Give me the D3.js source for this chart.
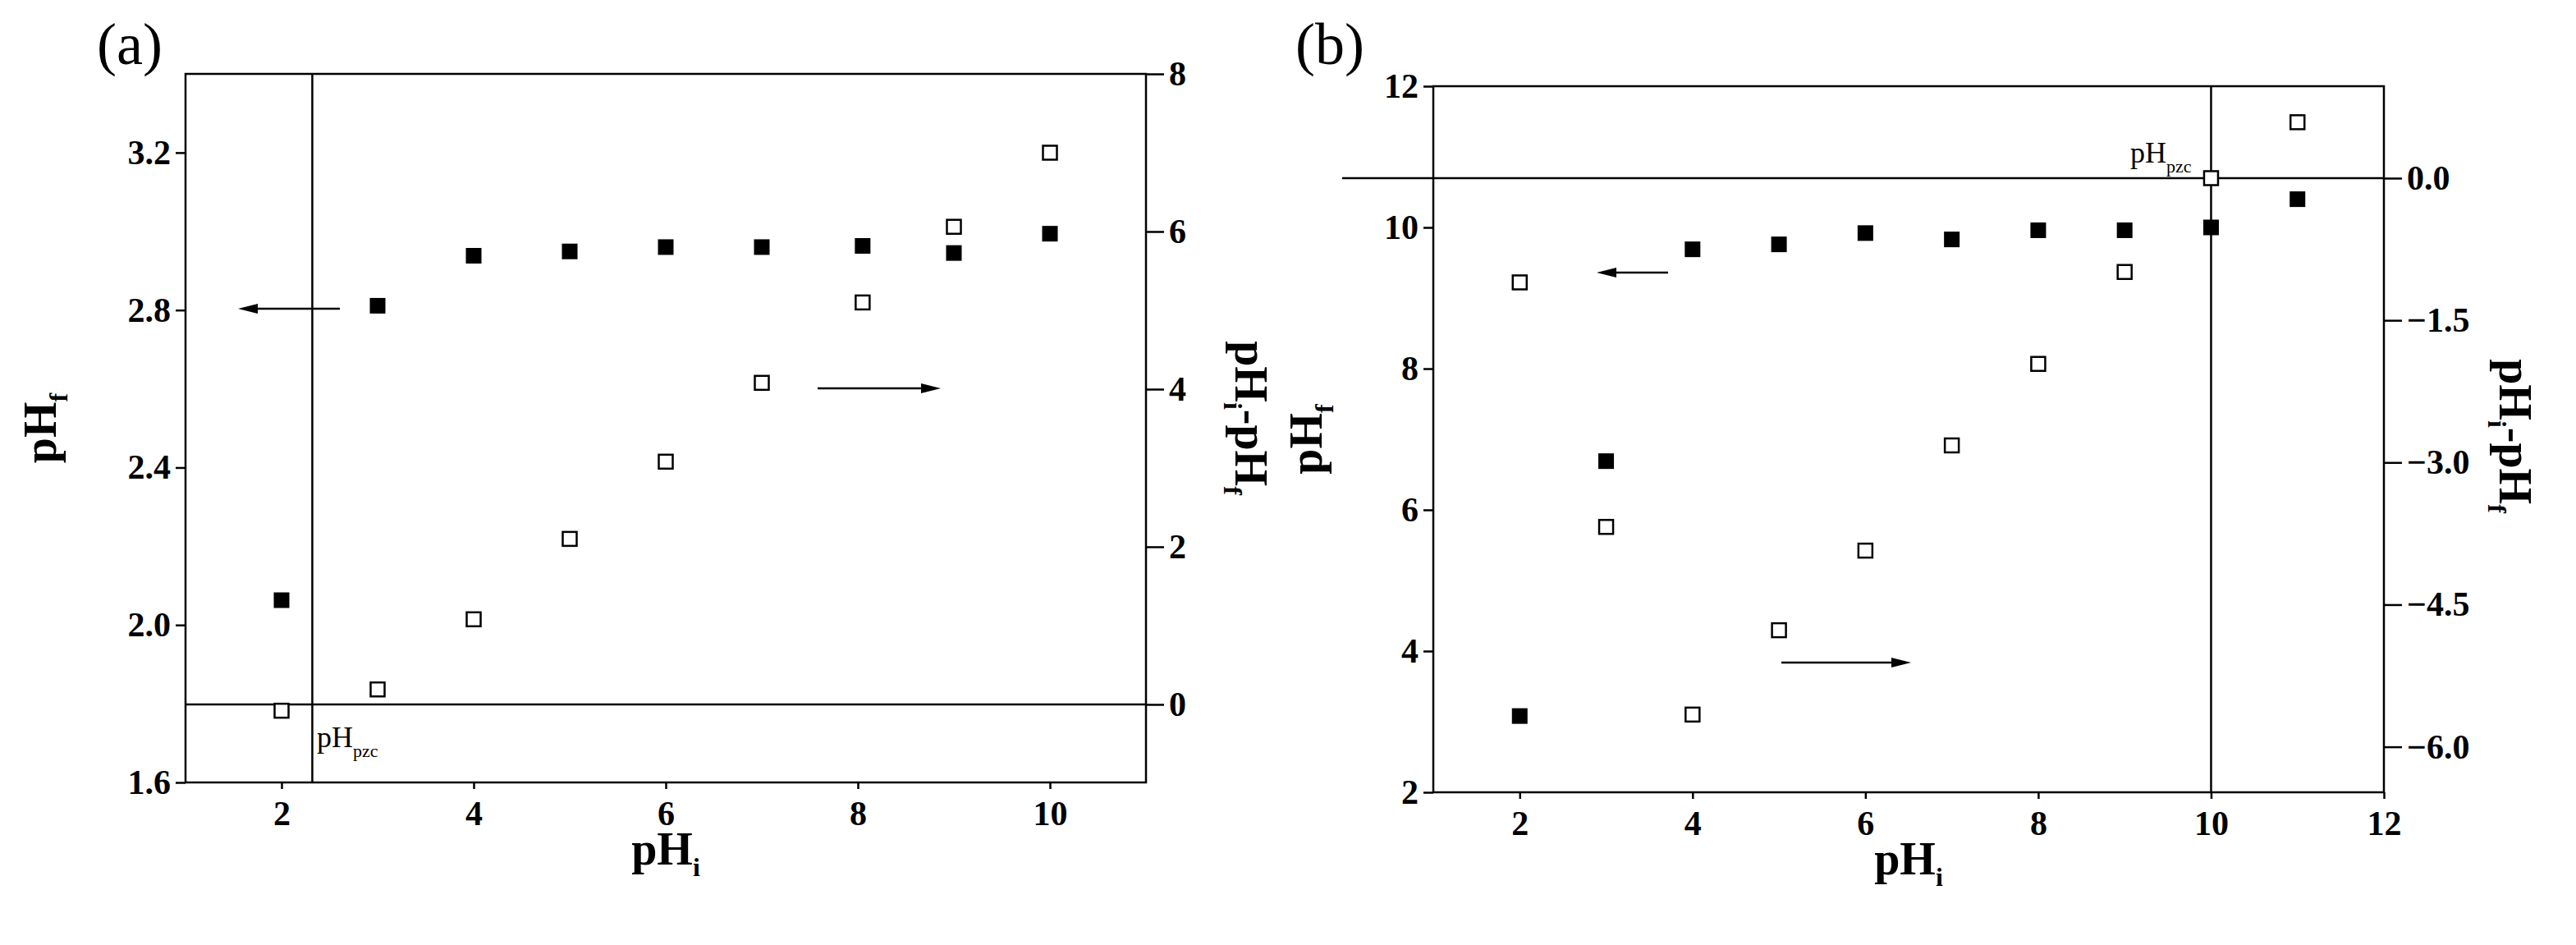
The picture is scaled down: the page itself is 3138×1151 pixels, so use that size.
<!DOCTYPE html><html><head><meta charset="utf-8">
<script src="https://cdn.jsdelivr.net/npm/d3@7"></script>
<style>body{margin:0;background:#fff}text{font-family:"Liberation Serif",serif}</style></head><body>
<svg id="c" width="3138" height="1151"></svg>
<script>
const xA_fill=[2,3,4,5,6,7,8.05,9,10];
const filledA=[2.063,2.811,2.938,2.949,2.96,2.96,2.963,2.945,2.994];
const xA_open=[2,3,4,5,6,7,8.05,9,10];
const openA=[-0.08,0.19,1.08,2.1,3.08,4.08,5.1,6.06,7.0];
const xB=[2,3,4,5,6,7,8,9,10,11];
const filledB=[3.08,6.69,9.69,9.76,9.92,9.83,9.96,9.96,10.0,10.4];
const openB=[-1.10,-3.68,-5.66,-4.77,-3.93,-2.82,-1.96,-0.99,0.0,0.59];
const ticksAx=[2,4,6,8,10], ticksAl=[1.6,2.0,2.4,2.8,3.2], ticksAr=[0,2,4,6,8];
const ticksBx=[2,4,6,8,10,12], ticksBl=[2,4,6,8,10,12], ticksBr=[0,-1.5,-3,-4.5,-6];
const svg=d3.select("#c");
function panel(o){
  const g=svg.append("g");
  const x=d3.scaleLinear().domain(o.xd).range([o.L,o.R]);
  const yl=d3.scaleLinear().domain(o.yld).range([o.B,o.T]);
  const yr=d3.scaleLinear().domain(o.yrd).range([o.B,o.T]);
  g.append("rect").attr("x",o.L).attr("y",o.T).attr("width",o.R-o.L).attr("height",o.B-o.T).attr("fill","none").attr("stroke","#000").attr("stroke-width",2.5);
  const st=s=>{s.select(".domain").remove();s.selectAll("line").attr("stroke-width",2.5);s.selectAll("text").attr("font-size",42).attr("font-weight","bold").attr("font-family","Liberation Serif")};
  g.append("g").attr("transform",`translate(0,${o.B})`).call(d3.axisBottom(x).tickValues(o.tx).tickSize(8).tickPadding(14)).call(st);
  g.append("g").attr("transform",`translate(${o.L},0)`).call(d3.axisLeft(yl).tickValues(o.tl).tickFormat(o.fl).tickSize(12).tickPadding(6)).call(st);
  g.append("g").attr("transform",`translate(${o.R},0)`).call(d3.axisRight(yr).tickValues(o.tr).tickFormat(o.fr).tickSize(22).tickPadding(6)).call(st);
  g.append("line").attr("x1",o.hx0).attr("x2",o.R).attr("y1",yr(0)).attr("y2",yr(0)).attr("stroke","#000").attr("stroke-width",2.5);
  g.append("line").attr("x1",x(o.vx)).attr("x2",x(o.vx)).attr("y1",o.T).attr("y2",o.B).attr("stroke","#000").attr("stroke-width",2.5);
  const s=19;
  g.selectAll(".f").data(o.fx).join("rect").attr("x",(d,i)=>x(d)-s/2).attr("y",(d,i)=>yl(o.fy[i])-s/2).attr("width",s).attr("height",s).attr("fill","#000");
  g.selectAll(".o").data(o.ox).join("rect").attr("x",(d,i)=>x(d)-s/2+1).attr("y",(d,i)=>yr(o.oy[i])-s/2+1).attr("width",s-2).attr("height",s-2).attr("fill","#fff").attr("stroke","#000").attr("stroke-width",2.5);
  const arr=(x1,x2,y)=>{g.append("line").attr("x1",x1).attr("x2",x2+(x2>x1?-14:14)).attr("y1",y).attr("y2",y).attr("stroke","#000").attr("stroke-width",2.5);
    const d=x2>x1?-1:1;g.append("path").attr("d",`M${x2},${y}L${x2+d*24},${y-6}L${x2+d*24},${y+6}Z`).attr("fill","#000");};
  arr(...o.a1);arr(...o.a2);
  const t=g.append("text").attr("x",o.pz[0]).attr("y",o.pz[1]).attr("font-family","Liberation Sans").attr("font-size",36);
  t.append("tspan").text("pH");t.append("tspan").attr("font-size",22).attr("dy",12).text("pzc");
  const xl=g.append("text").attr("x",(o.L+o.R)/2).attr("y",o.B+100).attr("text-anchor","middle").attr("font-size",56).attr("font-weight","bold");
  xl.append("tspan").text("pH");xl.append("tspan").attr("font-size",32).attr("dy",14).text("i");
  const yt=g.append("text").attr("transform",`translate(${o.ylx},${(o.T+o.B)/2}) rotate(-90)`).attr("text-anchor","middle").attr("font-size",56).attr("font-weight","bold");
  yt.append("tspan").text("pH");yt.append("tspan").attr("font-size",32).attr("dy",14).text("f");
  const rt=g.append("text").attr("transform",`translate(${o.yrx},${o.yry}) rotate(90)`).attr("text-anchor","middle").attr("font-size",56).attr("font-weight","bold");
  rt.append("tspan").text("pH");rt.append("tspan").attr("font-size",32).attr("dy",14).text("i");rt.append("tspan").attr("dy",-14).text("-pH");rt.append("tspan").attr("font-size",32).attr("dy",14).text("f");
  svg.append("text").attr("x",o.lab[0]).attr("y",o.lab[1]).attr("font-size",72).text(o.lab[2]);
}
panel({L:226,R:1396,T:90,B:953,xd:[1,11],yld:[1.6,3.4],yrd:[-0.99,8],tx:ticksAx,tl:ticksAl,tr:ticksAr,
  fl:d3.format(".1f"),fr:d3.format("d"),hx0:226,vx:2.32,fx:xA_fill,fy:filledA,ox:xA_open,oy:openA,
  a1:[414,290,376],a2:[996,1146,473],pz:[386,910],ylx:68,yrx:1505,yry:509,lab:[118,78,"(a)"]});
panel({L:1746,R:2904,T:105,B:965,xd:[1,12],yld:[2,12],yrd:[-6.48,0.97],tx:ticksBx,tl:ticksBl,tr:ticksBr,
  fl:d3.format("d"),fr:d3.format(".1f"),hx0:1635,vx:10,fx:xB,fy:filledB,ox:xB,oy:openB,
  a1:[2032,1945,332],a2:[2170,2328,807],pz:[2595,198],ylx:1610,yrx:3045,yry:531,lab:[1578,78,"(b)"]});
</script></body></html>
